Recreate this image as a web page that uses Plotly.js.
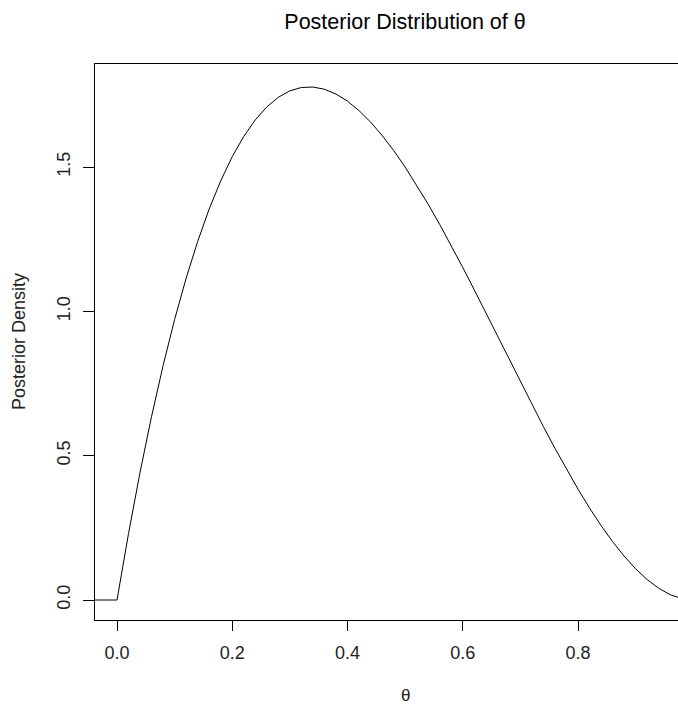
<!DOCTYPE html>
<html>
<head>
<meta charset="utf-8">
<script src="https://cdn.plot.ly/plotly-3.0.1.min.js"></script>
<style>html,body{margin:0;padding:0;background:#fff;}#chart{width:678px;height:704px;}</style>
</head>
<body>
<div id="chart"></div>
<script>
// Values
var theta = [-0.10, 0.00, 0.02, 0.04, 0.06, 0.08, 0.10, 0.12, 0.14, 0.16, 0.18, 0.20, 0.22, 0.24, 0.26, 0.28, 0.30, 0.32, 0.34, 0.36, 0.38, 0.40, 0.42, 0.44, 0.46, 0.48, 0.50, 0.52, 0.54, 0.56, 0.58, 0.60, 0.62, 0.64, 0.66, 0.68, 0.70, 0.72, 0.74, 0.76, 0.78, 0.80, 0.82, 0.84, 0.86, 0.88, 0.90, 0.92, 0.94, 0.96, 0.98, 1.00];
var density = [0, 0, 0.2305, 0.4424, 0.6362, 0.8125, 0.972, 1.1151, 1.2425, 1.3548, 1.4524, 1.536, 1.6062, 1.6635, 1.7085, 1.7418, 1.764, 1.7756, 1.7772, 1.7695, 1.7529, 1.728, 1.6955, 1.6558, 1.6096, 1.5575, 1.5, 1.4377, 1.3712, 1.301, 1.2277, 1.152, 1.0743, 0.9953, 0.9156, 0.8356, 0.756, 0.6774, 0.6003, 0.5253, 0.453, 0.384, 0.3188, 0.258, 0.2023, 0.1521, 0.108, 0.0707, 0.0406, 0.0184, 0.0047, 0];
var xTicks = [0, 0.2, 0.4, 0.6, 0.8];
var xTickLabels = ["0.0", "0.2", "0.4", "0.6", "0.8"];
var yTicks = [0, 0.5, 1.0, 1.5];
var yTickLabels = ["0.0", "0.5", "1.0", "1.5"];
var titleText = "Posterior Distribution of θ";
var xLabel = "θ";
var yLabel = "Posterior Density";

var font = "Liberation Sans, Arial, sans-serif";
var trace = {
  x: theta, y: density, type: "scatter", mode: "lines",
  line: {color: "#000", width: 1}, hoverinfo: "skip"
};
var layout = {
  width: 678, height: 704,
  margin: {l: 95, r: 0, t: 64, b: 84, pad: 0},
  paper_bgcolor: "#fff", plot_bgcolor: "#fff",
  showlegend: false,
  font: {family: font, color: "#000", size: 18},
  title: {text: titleText, font: {family: font, size: 21.5, color: "#000"},
          x: 405/678, xref: "container", xanchor: "center", y: 1 - 21/704, yref: "container", yanchor: "middle"},
  xaxis: {
    range: [-0.0382, 0.9735], showgrid: false, zeroline: false,
    showline: true, mirror: true, linecolor: "#000", linewidth: 1,
    ticks: "outside", ticklen: 10, tickwidth: 1, tickcolor: "#000",
    tickmode: "array", tickvals: xTicks, ticktext: xTickLabels,
    tickfont: {family: font, size: 18, color: "#222"}, ticklabelstandoff: 6
  },
  yaxis: {
    range: [-0.0693, 1.857], showgrid: false, zeroline: false,
    showline: true, mirror: false, linecolor: "#000", linewidth: 1,
    ticks: "outside", ticklen: 11, tickwidth: 1, tickcolor: "#000",
    tickmode: "array", tickvals: yTicks, ticktext: yTickLabels, tickangle: -90,
    tickfont: {family: font, size: 18, color: "#222"}, ticklabelstandoff: 6
  },
  annotations: [
    {text: xLabel, xref: "paper", yref: "paper", x: (405-95)/583, y: -(695-620)/556,
     xanchor: "center", yanchor: "middle", showarrow: false, font: {family: font, size: 17, color: "#222"}},
    {text: yLabel, xref: "paper", yref: "paper", x: -(95-19)/583, y: 0.5, textangle: -90,
     xanchor: "center", yanchor: "middle", showarrow: false, font: {family: font, size: 18, color: "#222"}}
  ]
};
Plotly.newPlot("chart", [trace], layout, {staticPlot: true, displayModeBar: false});
</script>
</body>
</html>
